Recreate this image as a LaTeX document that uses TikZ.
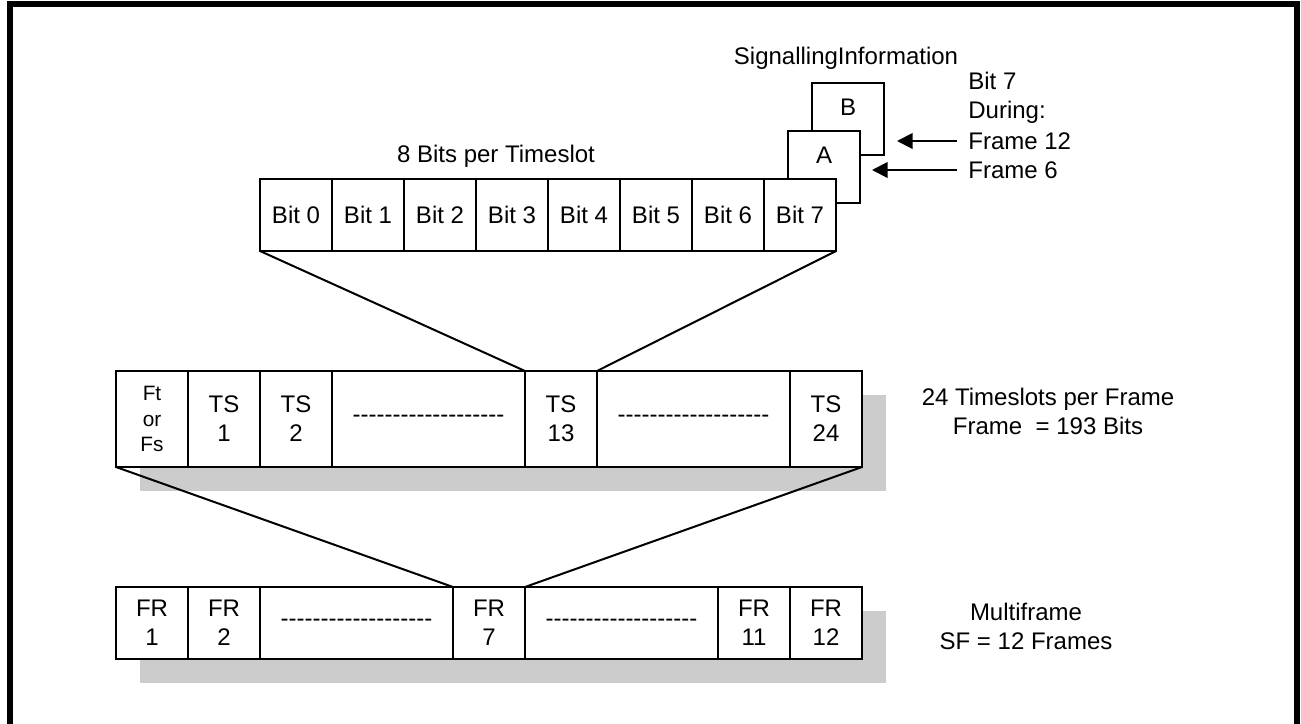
\documentclass[tikz,border=0pt]{standalone}
\usepackage{fontspec}
\setmainfont{Liberation Sans}
\usepackage{tikz}
\usetikzlibrary{positioning,arrows.meta,backgrounds}
\definecolor{shadegray}{HTML}{CCCCCC}
\newcommand{\dashfill}{\foreach\k in {1,...,19}{-\kern0pt}}

\begin{document}
\begin{tikzpicture}[x=0.5pt, y=-0.5pt,
      font=\fontsize{12}{14.5}\selectfont,
      cell/.style={draw, fill=white, line width=1pt, align=center, inner sep=0pt, outer sep=0pt,
                   minimum width=36pt, minimum height=36pt},
      tscell/.style={cell, minimum height=48pt},
      sigcell/.style={cell, text height=8.6pt, text depth=12pt},
      wide/.style={minimum width=96.5pt},
      small/.style={font=\fontsize{10.4}{12.7}\selectfont},
      lbl/.style={align=center, inner sep=0pt},
      shade/.style={fill=shadegray},
      seta/.style={-{Triangle[length=7.8pt, width=7.8pt]}, line width=1pt},
      fio/.style={line width=1pt},
      node distance=0pt]
    \useasboundingbox (0,0) rectangle (1301,723);
    \draw[line width=2.75pt] (10,730) -- (10,4) -- (1297,4) -- (1297,730);

    % bits of one timeslot
    \node[cell, anchor=north west] (b0) at (260,179) {Bit 0};
    \node[cell, right=of b0] (b1) {Bit 1};
    \node[cell, right=of b1] (b2) {Bit 2};
    \node[cell, right=of b2] (b3) {Bit 3};
    \node[cell, right=of b3] (b4) {Bit 4};
    \node[cell, right=of b4] (b5) {Bit 5};
    \node[cell, right=of b5] (b6) {Bit 6};
    \node[cell, right=of b6] (b7) {Bit 7};
    \begin{scope}[on background layer]
      \node[sigcell, anchor=north west] (sigB) at ([shift={(24pt,48pt)}]b7.north west) {B};
      \node[sigcell, anchor=north west] (sigA) at ([shift={(12pt,24pt)}]b7.north west) {A};
    \end{scope}
    \node[lbl] (siginfo) at (846,58) {SignallingInformation};
    \node[lbl] (bitsper) at (496,156) {8 Bits per Timeslot};
    \node[lbl, align=left, anchor=west] (during) at (968,98) {Bit 7\\During:};
    \node[lbl, anchor=west] (f12) at (968,141) {Frame 12};
    \node[lbl, anchor=west] (f6) at (968,170) {Frame 6};
    \draw[seta, shorten <=5.5pt, shorten >=6.5pt] (f12.west) -- (f12.west -| sigB.east);
    \draw[seta, shorten <=5.5pt, shorten >=6pt] (f6.west) -- (f6.west -| sigA.east);

    % timeslots of one frame
    \node[tscell, small, anchor=north west] (ft) at (116,371) {Ft\\or\\Fs};
    \node[tscell, right=of ft] (ts1) {TS\\1};
    \node[tscell, right=of ts1] (ts2) {TS\\2};
    \node[tscell, wide, right=of ts2] (tsgap1) {\dashfill};
    \node[tscell, right=of tsgap1] (ts13) {TS\\13};
    \node[tscell, wide, right=of ts13] (tsgap2) {\dashfill};
    \node[tscell, right=of tsgap2] (ts24) {TS\\24};
    \node[lbl] (tsinfo) at (1048,411) {24 Timeslots per Frame\\Frame \ = 193 Bits};

    % frames of one multiframe
    \node[cell, anchor=north west] (fr1) at (116,587) {FR\\1};
    \node[cell, right=of fr1] (fr2) {FR\\2};
    \node[cell, wide, right=of fr2] (frgap1) {\dashfill};
    \node[cell, right=of frgap1] (fr7) {FR\\7};
    \node[cell, wide, right=of fr7] (frgap2) {\dashfill};
    \node[cell, right=of frgap2] (fr11) {FR\\11};
    \node[cell, right=of fr11] (fr12) {FR\\12};
    \node[lbl] (mfinfo) at (1026,626) {Multiframe\\SF = 12 Frames};

    \begin{scope}[on background layer]
      \fill[shade] ([shift={(12pt,-12pt)}]ft.north west) rectangle ([shift={(12pt,-12pt)}]ts24.south east);
      \fill[shade] ([shift={(12pt,-12pt)}]fr1.north west) rectangle ([shift={(12pt,-12pt)}]fr12.south east);
    \end{scope}

    \draw[fio] (b0.south west) -- (ts13.north west);
    \draw[fio] (b7.south east) -- (ts13.north east);
    \draw[fio] (ft.south west) -- (fr7.north west);
    \draw[fio] (ts24.south east) -- (fr7.north east);
  \end{tikzpicture}
\end{document}
